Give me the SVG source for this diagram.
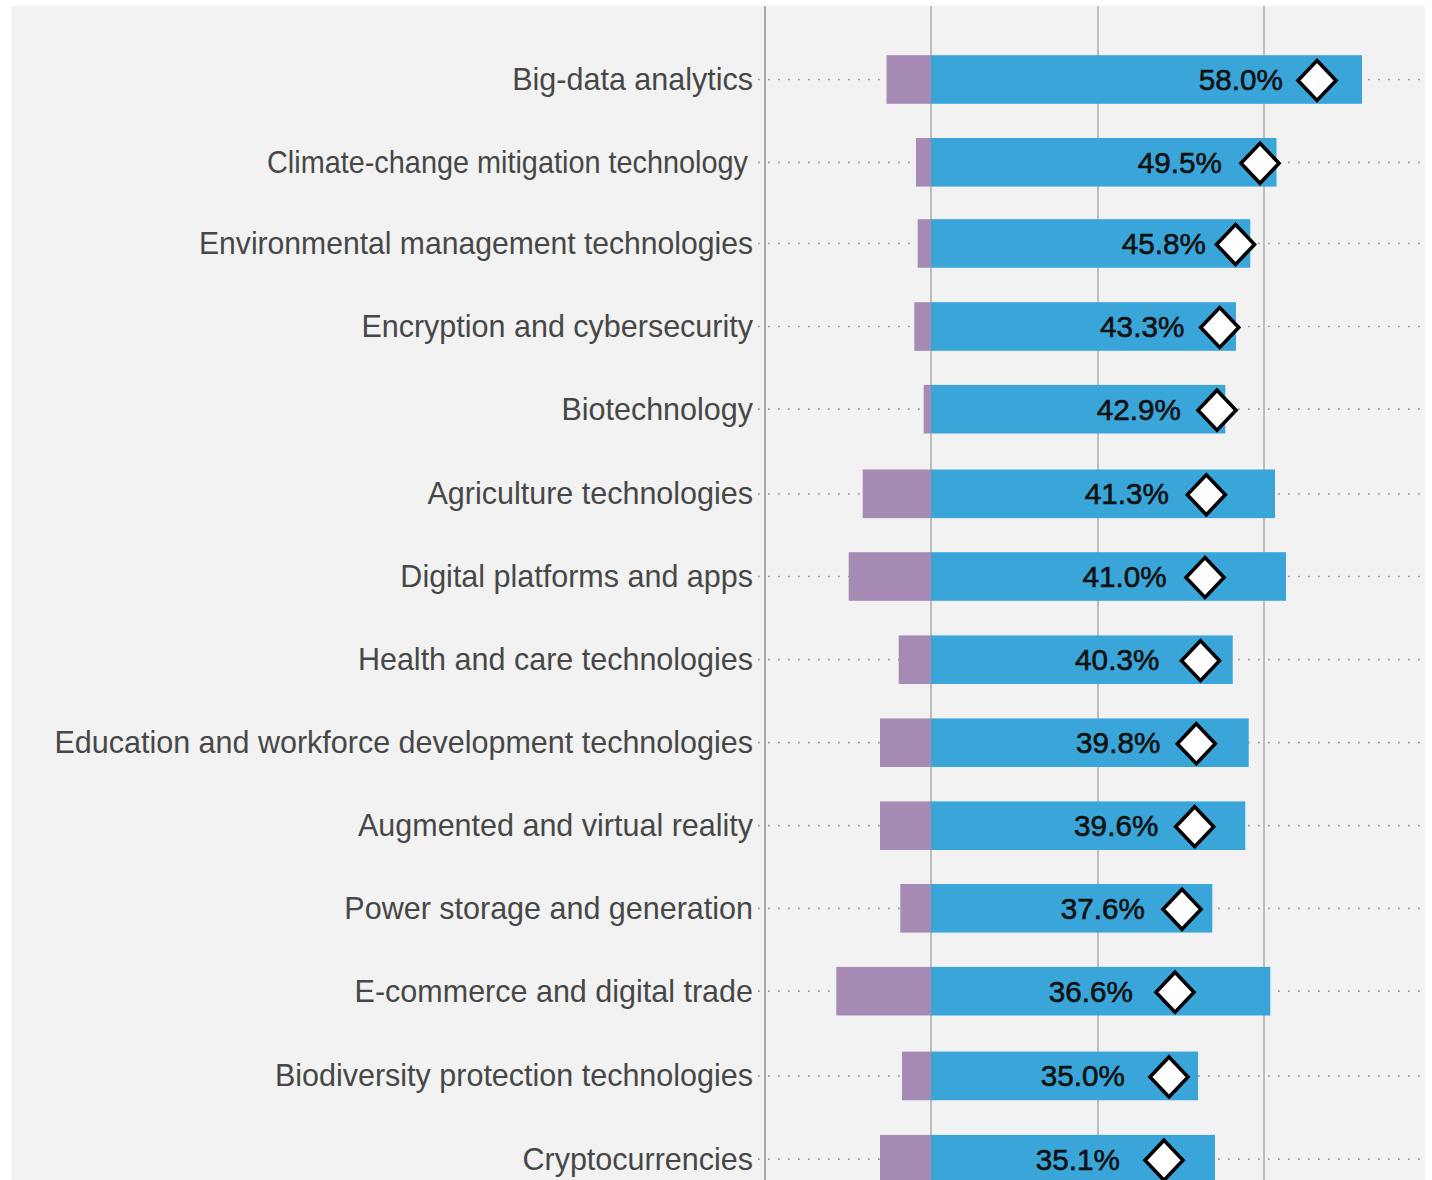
<svg xmlns="http://www.w3.org/2000/svg" width="1432" height="1180" viewBox="0 0 1432 1180">
  <style>
    .lbl { font-family: "Liberation Sans", Arial, sans-serif; font-size: 30.5px; fill: #474747; text-anchor: end; }
    .val { font-family: "Liberation Sans", Arial, sans-serif; font-size: 29.7px; fill: #111111; stroke: #111111; stroke-width: 0.6; text-anchor: end; }
    .neg { fill: #a68bb4; }
    .pos { fill: #3aa5d9; }
    .dia { fill: #ffffff; stroke: #000000; stroke-width: 3.6; stroke-linejoin: miter; }
    .dot { stroke: #999999; stroke-width: 1.7; stroke-dasharray: 1.7 8.3; fill: none; }
    .grid { stroke: #bdbdbd; stroke-width: 2; fill: none; }
    .axis { stroke: #a8a8a8; stroke-width: 2; fill: none; }
  </style>
  <rect x="0" y="0" width="1432" height="1180" fill="#ffffff"/>
  <rect x="11" y="6" width="1414" height="1174" fill="#f1f2f1"/>

  <g id="gridlines">
    <line class="axis" x1="765" y1="6" x2="765" y2="1180"/>
    <line class="grid" x1="931" y1="6" x2="931" y2="1180"/>
    <line class="grid" x1="1098" y1="6" x2="1098" y2="1180"/>
    <line class="grid" x1="1264" y1="6" x2="1264" y2="1180"/>
  </g>

  <g id="connectors">
    <line class="dot" x1="758" y1="79.5" x2="1425" y2="79.5"/>
    <line class="dot" x1="758" y1="162.3" x2="1425" y2="162.3"/>
    <line class="dot" x1="758" y1="243.5" x2="1425" y2="243.5"/>
    <line class="dot" x1="758" y1="326.5" x2="1425" y2="326.5"/>
    <line class="dot" x1="758" y1="409.2" x2="1425" y2="409.2"/>
    <line class="dot" x1="758" y1="493.8" x2="1425" y2="493.8"/>
    <line class="dot" x1="758" y1="576.5" x2="1425" y2="576.5"/>
    <line class="dot" x1="758" y1="659.7" x2="1425" y2="659.7"/>
    <line class="dot" x1="758" y1="742.7" x2="1425" y2="742.7"/>
    <line class="dot" x1="758" y1="825.7" x2="1425" y2="825.7"/>
    <line class="dot" x1="758" y1="908.3" x2="1425" y2="908.3"/>
    <line class="dot" x1="758" y1="991.2" x2="1425" y2="991.2"/>
    <line class="dot" x1="758" y1="1075.9" x2="1425" y2="1075.9"/>
    <line class="dot" x1="758" y1="1159.2" x2="1425" y2="1159.2"/>
  </g>

  <g id="row-big-data">
    <text class="lbl" x="753" y="89.8">Big-data analytics</text>
    <rect class="neg" x="886.5" y="55.2" width="44.5" height="48.6"/>
    <rect class="pos" x="931" y="55.2" width="431" height="48.6"/>
    <text class="val" x="1283" y="89.8">58.0%</text>
    <polygon class="dia" points="1317,60.5 1336,80.5 1317,100.5 1298,80.5"/>
  </g>

  <g id="row-climate">
    <text class="lbl" x="748" y="172.6" textLength="481" lengthAdjust="spacingAndGlyphs">Climate-change mitigation technology</text>
    <rect class="neg" x="916" y="138" width="15" height="48.6"/>
    <rect class="pos" x="931" y="138" width="345.5" height="48.6"/>
    <text class="val" x="1222" y="172.6">49.5%</text>
    <polygon class="dia" points="1260,143.3 1279,163.3 1260,183.3 1241,163.3"/>
  </g>

  <g id="row-environmental">
    <text class="lbl" x="753" y="253.8" textLength="554" lengthAdjust="spacingAndGlyphs">Environmental management technologies</text>
    <rect class="neg" x="917.7" y="219.2" width="13.3" height="48.6"/>
    <rect class="pos" x="931" y="219.2" width="319.3" height="48.6"/>
    <text class="val" x="1206" y="253.8">45.8%</text>
    <polygon class="dia" points="1235.5,224.5 1254.5,244.5 1235.5,264.5 1216.5,244.5"/>
  </g>

  <g id="row-encryption">
    <text class="lbl" x="753" y="336.8">Encryption and cybersecurity</text>
    <rect class="neg" x="914.3" y="302.2" width="16.7" height="48.6"/>
    <rect class="pos" x="931" y="302.2" width="305" height="48.6"/>
    <text class="val" x="1184.3" y="336.8">43.3%</text>
    <polygon class="dia" points="1219.7,307.5 1238.7,327.5 1219.7,347.5 1200.7,327.5"/>
  </g>

  <g id="row-biotechnology">
    <text class="lbl" x="753" y="419.5">Biotechnology</text>
    <rect class="neg" x="923.7" y="384.9" width="7.3" height="48.6"/>
    <rect class="pos" x="931" y="384.9" width="294.3" height="48.6"/>
    <text class="val" x="1181" y="419.5">42.9%</text>
    <polygon class="dia" points="1217,390.2 1236,410.2 1217,430.2 1198,410.2"/>
  </g>

  <g id="row-agriculture">
    <text class="lbl" x="753" y="504.1">Agriculture technologies</text>
    <rect class="neg" x="862.7" y="469.5" width="68.3" height="48.6"/>
    <rect class="pos" x="931" y="469.5" width="344" height="48.6"/>
    <text class="val" x="1169" y="504.1">41.3%</text>
    <polygon class="dia" points="1206.3,474.8 1225.3,494.8 1206.3,514.8 1187.3,494.8"/>
  </g>

  <g id="row-digital-platforms">
    <text class="lbl" x="753" y="586.8">Digital platforms and apps</text>
    <rect class="neg" x="848.7" y="552.2" width="82.3" height="48.6"/>
    <rect class="pos" x="931" y="552.2" width="355" height="48.6"/>
    <text class="val" x="1166.7" y="586.8">41.0%</text>
    <polygon class="dia" points="1205,557.5 1224,577.5 1205,597.5 1186,577.5"/>
  </g>

  <g id="row-health">
    <text class="lbl" x="753" y="670">Health and care technologies</text>
    <rect class="neg" x="898.7" y="635.4" width="32.3" height="48.6"/>
    <rect class="pos" x="931" y="635.4" width="301.7" height="48.6"/>
    <text class="val" x="1159.3" y="670">40.3%</text>
    <polygon class="dia" points="1200.5,640.7 1219.5,660.7 1200.5,680.7 1181.5,660.7"/>
  </g>

  <g id="row-education">
    <text class="lbl" x="753" y="753">Education and workforce development technologies</text>
    <rect class="neg" x="880" y="718.4" width="51" height="48.6"/>
    <rect class="pos" x="931" y="718.4" width="317.7" height="48.6"/>
    <text class="val" x="1160.3" y="753">39.8%</text>
    <polygon class="dia" points="1196.3,723.7 1215.3,743.7 1196.3,763.7 1177.3,743.7"/>
  </g>

  <g id="row-ar-vr">
    <text class="lbl" x="753" y="836">Augmented and virtual reality</text>
    <rect class="neg" x="880" y="801.4" width="51" height="48.6"/>
    <rect class="pos" x="931" y="801.4" width="314.3" height="48.6"/>
    <text class="val" x="1158.3" y="836">39.6%</text>
    <polygon class="dia" points="1194.7,806.7 1213.7,826.7 1194.7,846.7 1175.7,826.7"/>
  </g>

  <g id="row-power-storage">
    <text class="lbl" x="753" y="918.6">Power storage and generation</text>
    <rect class="neg" x="900.3" y="884" width="30.7" height="48.6"/>
    <rect class="pos" x="931" y="884" width="281.3" height="48.6"/>
    <text class="val" x="1145" y="918.6">37.6%</text>
    <polygon class="dia" points="1182,889.3 1201,909.3 1182,929.3 1163,909.3"/>
  </g>

  <g id="row-ecommerce">
    <text class="lbl" x="753" y="1001.5">E-commerce and digital trade</text>
    <rect class="neg" x="836.3" y="966.9" width="94.7" height="48.6"/>
    <rect class="pos" x="931" y="966.9" width="339.3" height="48.6"/>
    <text class="val" x="1133" y="1001.5">36.6%</text>
    <polygon class="dia" points="1175,972.2 1194,992.2 1175,1012.2 1156,992.2"/>
  </g>

  <g id="row-biodiversity">
    <text class="lbl" x="753" y="1086.2">Biodiversity protection technologies</text>
    <rect class="neg" x="902" y="1051.6" width="29" height="48.6"/>
    <rect class="pos" x="931" y="1051.6" width="267" height="48.6"/>
    <text class="val" x="1125" y="1086.2">35.0%</text>
    <polygon class="dia" points="1169,1056.9 1188,1076.9 1169,1096.9 1150,1076.9"/>
  </g>

  <g id="row-cryptocurrencies">
    <text class="lbl" x="753" y="1169.5">Cryptocurrencies</text>
    <rect class="neg" x="880" y="1134.9" width="51" height="48.6"/>
    <rect class="pos" x="931" y="1134.9" width="284" height="48.6"/>
    <text class="val" x="1120" y="1169.5">35.1%</text>
    <polygon class="dia" points="1164,1140.2 1183,1160.2 1164,1180.2 1145,1160.2"/>
  </g>
</svg>
